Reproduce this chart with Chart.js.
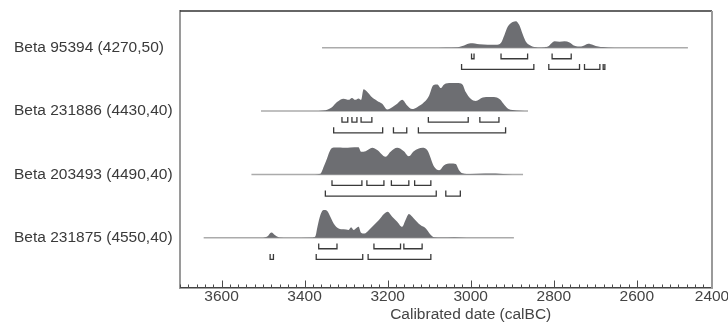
<!DOCTYPE html>
<html>
<head>
<meta charset="utf-8">
<script src="https://cdn.jsdelivr.net/npm/chart.js@4.4.1/dist/chart.umd.min.js"></script>
<style>
  html, body { margin: 0; padding: 0; background: #fff; }
</style>
</head>
<body>
<canvas id="chart" width="728" height="324"></canvas>
<script>
// sample names, top to bottom
const sampleLabels = ['Beta 95394 (4270,50)', 'Beta 231886 (4430,40)', 'Beta 203493 (4490,40)', 'Beta 231875 (4550,40)'];
const xTicks = [3600, 3400, 3200, 3000, 2800, 2600, 2400];

// extent of the grey base line of each distribution (calBC)
const baseSpan = [[3358, 2477], [3505, 2862], [3528, 2874], [3643, 2896]];

// probability curves (relative to the tallest peak)
const years1 = [3095, 3060, 3032, 3016, 3000, 2990, 2979, 2959, 2939, 2927, 2919, 2911, 2899, 2891, 2883, 2875, 2867, 2854, 2838, 2822, 2814, 2806, 2798, 2786, 2774, 2762, 2750, 2734, 2717, 2705, 2693, 2669, 2640];
const prob1 = [0, 0.01, 0.02, 0.08, 0.16, 0.15, 0.12, 0.11, 0.11, 0.18, 0.45, 0.75, 0.92, 0.95, 0.81, 0.49, 0.21, 0.06, 0.01, 0.02, 0.04, 0.15, 0.23, 0.21, 0.23, 0.19, 0.07, 0.04, 0.14, 0.10, 0.04, 0.01, 0];

const years2 = [3380, 3354, 3334, 3322, 3306, 3294, 3286, 3278, 3270, 3264, 3258, 3250, 3237, 3225, 3213, 3201, 3189, 3177, 3165, 3153, 3141, 3129, 3112, 3100, 3090, 3080, 3072, 3064, 3048, 3032, 3020, 3012, 3000, 2988, 2971, 2955, 2944, 2930, 2922, 2909, 2890, 2870];
const prob2 = [0, 0.02, 0.14, 0.32, 0.44, 0.40, 0.47, 0.40, 0.45, 0.40, 0.78, 0.70, 0.48, 0.36, 0.26, 0.06, 0.14, 0.26, 0.40, 0.20, 0.07, 0.14, 0.32, 0.56, 0.92, 0.95, 0.82, 0.95, 1.0, 1.0, 0.95, 0.68, 0.44, 0.36, 0.48, 0.50, 0.50, 0.42, 0.28, 0.07, 0.02, 0];

const years3 = [3375, 3362, 3354, 3346, 3338, 3330, 3314, 3302, 3290, 3270, 3264, 3253, 3237, 3225, 3205, 3193, 3177, 3161, 3149, 3137, 3116, 3104, 3088, 3076, 3064, 3048, 3036, 3028, 3020, 3000, 2966, 2940, 2922, 2900];
const prob3 = [0, 0.02, 0.27, 0.57, 0.87, 0.96, 0.96, 0.95, 0.96, 0.97, 0.81, 0.83, 0.95, 0.87, 0.63, 0.81, 0.95, 0.83, 0.65, 0.83, 0.95, 0.85, 0.27, 0.15, 0.33, 0.39, 0.37, 0.15, 0.04, 0.01, 0.03, 0.03, 0.01, 0];

const years4 = [3500, 3490, 3480, 3470, 3460, 3440, 3380, 3374, 3369, 3362, 3354, 3346, 3338, 3330, 3318, 3306, 3294, 3288, 3282, 3275, 3270, 3264, 3256, 3245, 3233, 3221, 3209, 3200, 3189, 3177, 3165, 3157, 3149, 3137, 3121, 3108, 3096, 3088, 3070, 3040, 3010];
const prob4 = [0, 0.04, 0.19, 0.08, 0.01, 0, 0.01, 0.05, 0.39, 0.81, 0.99, 0.96, 0.75, 0.51, 0.33, 0.30, 0.28, 0.37, 0.28, 0.35, 0.39, 0.18, 0.15, 0.28, 0.45, 0.63, 0.85, 0.93, 0.75, 0.57, 0.39, 0.63, 0.85, 0.69, 0.45, 0.33, 0.10, 0.02, 0.01, 0.02, 0];

// 68.2% and 95.4% ranges (from, to) for each sample
const range68 = [
  [[2998, 2992], [2927, 2863], [2804, 2758]],
  [[3310, 3296], [3286, 3274], [3264, 3238], [3102, 3006], [2978, 2932]],
  [[3334, 3262], [3250, 3209], [3191, 3149], [3135, 3096]],
  [[3366, 3322], [3233, 3169], [3161, 3117]]
];
const range95 = [
  [[3022, 2848], [2812, 2738], [2726, 2689], [2681, 2677]],
  [[3330, 3212], [3186, 3154], [3126, 2916]],
  [[3350, 3083], [3060, 3025]],
  [[3483, 3475], [3372, 3260], [3247, 3096]]
];

const rowYears = [years1, years2, years3, years4];
const rowProbs = [prob1, prob2, prob3, prob4];

const PEAK = 0.442;              // height of a full peak in row units
const BR68 = [-0.092, -0.174];   // bracket tick top / bar
const BR95 = [-0.256, -0.343];
const FONT = '"Liberation Sans", Arial, sans-serif';

function rowBase(i) { return sampleLabels.length - 1 - i; }

function bracketData(list, base, lv) {
  const pts = [];
  list.forEach(function(r) {
    pts.push({x: r[0], y: base + lv[0]}, {x: r[0], y: base + lv[1]},
             {x: r[1], y: base + lv[1]}, {x: r[1], y: base + lv[0]},
             {x: r[1], y: null});
  });
  return pts;
}

const datasets = [];
rowYears.forEach(function(ys, i) {
  const b = rowBase(i);
  datasets.push({
    data: ys.map(function(yr, k) { return {x: yr, y: b + rowProbs[i][k] * PEAK}; }),
    borderWidth: 0,
    backgroundColor: '#6d6e72',
    fill: {value: b},
    pointRadius: 0,
    cubicInterpolationMode: 'monotone'
  });
});
baseSpan.forEach(function(s, i) {
  const b = rowBase(i);
  datasets.push({
    data: [{x: s[0], y: b}, {x: s[1], y: b}],
    borderColor: '#ababab',
    borderWidth: 1.5,
    pointRadius: 0
  });
});
range68.forEach(function(list, i) {
  datasets.push({
    data: bracketData(list, rowBase(i), BR68),
    borderColor: '#3a3a3a', borderWidth: 1.3, pointRadius: 0, spanGaps: false
  });
});
range95.forEach(function(list, i) {
  datasets.push({
    data: bracketData(list, rowBase(i), BR95),
    borderColor: '#3a3a3a', borderWidth: 1.3, pointRadius: 0, spanGaps: false
  });
});

// inward ticks, top/right frame and the axis title
const framePlugin = {
  id: 'frame',
  afterDraw: function(chart) {
    const ctx = chart.ctx;
    const a = chart.chartArea;
    const x = chart.scales.x;
    ctx.save();
    ctx.strokeStyle = '#4a4a4a';
    ctx.lineWidth = 1;
    for (let v = 3700; v >= x.min; v -= 20) {
      const px = Math.round(x.getPixelForValue(v)) + 0.5;
      const len = v % 200 === 0 ? 7.5 : 3.5;
      ctx.beginPath();
      ctx.moveTo(px, a.bottom);
      ctx.lineTo(px, a.bottom - len);
      ctx.stroke();
    }
    ctx.strokeStyle = '#333';
    ctx.lineWidth = 1.5;
    ctx.beginPath();
    ctx.moveTo(a.left, a.top);
    ctx.lineTo(a.right, a.top);
    ctx.stroke();
    ctx.strokeStyle = '#9a9a9a';
    ctx.lineWidth = 2;
    ctx.beginPath();
    ctx.moveTo(a.right, a.top);
    ctx.lineTo(a.right, a.bottom);
    ctx.stroke();
    ctx.fillStyle = '#444';
    ctx.font = '15.5px ' + FONT;
    ctx.textAlign = 'center';
    ctx.textBaseline = 'middle';
    ctx.fillText('Calibrated date (calBC)', x.getPixelForValue(3000), 315);
    ctx.restore();
  }
};

new Chart(document.getElementById('chart'), {
  type: 'line',
  data: { datasets: datasets },
  options: {
    responsive: false,
    animation: false,
    devicePixelRatio: 1,
    layout: { padding: { left: 14, right: 16, top: 11, bottom: 0 } },
    plugins: { legend: { display: false }, tooltip: { enabled: false } },
    scales: {
      x: {
        type: 'linear',
        reverse: true,
        min: 2419,
        max: 3700,
        grid: { display: false, drawTicks: false },
        border: { display: true, color: '#444', width: 1.5 },
        ticks: {
          autoSkip: false,
          maxRotation: 0,
          padding: 0,
          color: '#444',
          font: { family: FONT, size: 15.5, lineHeight: 1.1 },
          callback: function(v, i) { return xTicks[i]; }
        },
        afterBuildTicks: function(s) {
          s.ticks = xTicks.map(function(v) { return {value: Math.max(v, s.min)}; });
        },
        afterFit: function(s) {
          s.height = 36;
          s.paddingLeft = 0;
          s.paddingRight = 0;
        }
      },
      y: {
        type: 'linear',
        position: 'left',
        min: -0.794,
        max: 3.58,
        grid: { display: false, drawTicks: false },
        border: { display: true, color: '#9a9a9a', width: 2 },
        ticks: {
          crossAlign: 'far',
          padding: 0,
          color: '#3a3a3a',
          font: { family: FONT, size: 15.5 },
          callback: function(v, i) { return sampleLabels[sampleLabels.length - 1 - i]; }
        },
        afterBuildTicks: function(s) {
          s.ticks = sampleLabels.map(function(l, i) { return {value: i}; });
        },
        afterFit: function(s) {
          s.width = 166;
          s.paddingTop = 0;
          s.paddingBottom = 0;
        }
      }
    }
  },
  plugins: [framePlugin]
});
</script>
</body>
</html>
